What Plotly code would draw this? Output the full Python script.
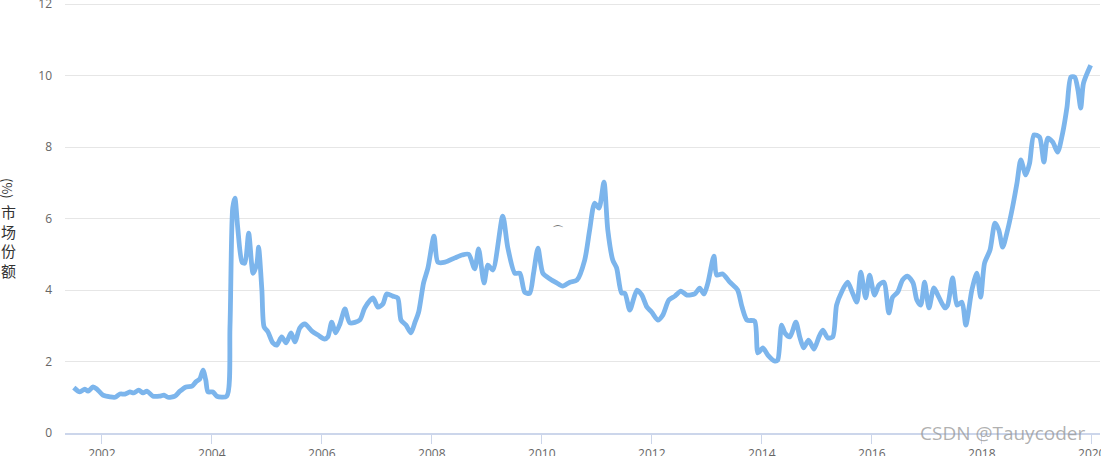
import plotly.graph_objects as go

# decimal years and market share (%)
years = [2001.49, 2001.60, 2001.69, 2001.75, 2001.84, 2001.91, 2002.02, 2002.15, 2002.24, 2002.33,
         2002.42, 2002.51, 2002.58, 2002.67, 2002.75, 2002.82, 2002.93, 2003.05, 2003.13, 2003.20,
         2003.33, 2003.42, 2003.53, 2003.64, 2003.71, 2003.78, 2003.84, 2003.89, 2003.93, 2004.02,
         2004.09, 2004.27, 2004.33, 2004.38, 2004.42, 2004.47, 2004.55, 2004.60, 2004.67, 2004.75,
         2004.82, 2004.85, 2004.91, 2004.95, 2005.02, 2005.11, 2005.18, 2005.27, 2005.35, 2005.44,
         2005.51, 2005.60, 2005.69, 2005.82, 2005.93, 2006.05, 2006.11, 2006.18, 2006.25, 2006.33,
         2006.42, 2006.51, 2006.69, 2006.78, 2006.93, 2007.02, 2007.11, 2007.18, 2007.29, 2007.38,
         2007.44, 2007.53, 2007.62, 2007.69, 2007.76, 2007.85, 2007.93, 2008.04, 2008.11, 2008.24,
         2008.42, 2008.55, 2008.67, 2008.78, 2008.85, 2008.95, 2009.02, 2009.11, 2009.29, 2009.38,
         2009.51, 2009.60, 2009.69, 2009.78, 2009.85, 2009.93, 2010.02, 2010.15, 2010.27, 2010.38,
         2010.51, 2010.64, 2010.78, 2010.87, 2010.96, 2011.04, 2011.13, 2011.20, 2011.29, 2011.36,
         2011.45, 2011.51, 2011.60, 2011.73, 2011.82, 2011.91, 2012.00, 2012.11, 2012.20, 2012.31,
         2012.42, 2012.53, 2012.64, 2012.78, 2012.87, 2012.95, 2013.02, 2013.13, 2013.18, 2013.29,
         2013.42, 2013.56, 2013.64, 2013.73, 2013.87, 2013.93, 2014.02, 2014.11, 2014.24, 2014.29,
         2014.36, 2014.42, 2014.51, 2014.62, 2014.69, 2014.76, 2014.85, 2014.95, 2015.04, 2015.11,
         2015.20, 2015.29, 2015.36, 2015.45, 2015.56, 2015.65, 2015.73, 2015.80, 2015.89, 2015.96,
         2016.05, 2016.13, 2016.22, 2016.31, 2016.38, 2016.47, 2016.56, 2016.65, 2016.75, 2016.82,
         2016.89, 2016.96, 2017.04, 2017.13, 2017.22, 2017.33, 2017.38, 2017.47, 2017.55, 2017.64,
         2017.71, 2017.82, 2017.91, 2017.98, 2018.05, 2018.15, 2018.24, 2018.31, 2018.38, 2018.47,
         2018.56, 2018.64, 2018.71, 2018.80, 2018.87, 2018.95, 2019.05, 2019.13, 2019.20, 2019.29,
         2019.38, 2019.47, 2019.55, 2019.62, 2019.69, 2019.75, 2019.80, 2019.85, 2019.98]

share = [1.27, 1.15, 1.23, 1.17, 1.29, 1.23, 1.06, 1.01, 1.00, 1.09,
         1.09, 1.15, 1.12, 1.20, 1.12, 1.17, 1.03, 1.03, 1.06, 1.00,
         1.03, 1.17, 1.29, 1.31, 1.43, 1.51, 1.76, 1.48, 1.15, 1.15,
         1.03, 1.03, 2.97, 6.30, 6.57, 5.76, 4.78, 4.75, 5.59, 4.47,
         4.75, 5.20, 4.00, 2.97, 2.83, 2.52, 2.46, 2.69, 2.52, 2.80,
         2.55, 2.94, 3.05, 2.85, 2.74, 2.63, 2.69, 3.10, 2.80, 3.05,
         3.47, 3.08, 3.16, 3.50, 3.78, 3.52, 3.61, 3.89, 3.83, 3.78,
         3.16, 3.02, 2.80, 3.08, 3.38, 4.20, 4.62, 5.51, 4.78, 4.78,
         4.90, 4.98, 5.00, 4.59, 5.15, 4.20, 4.70, 4.56, 6.07, 5.20,
         4.47, 4.47, 3.94, 3.91, 4.47, 5.17, 4.47, 4.31, 4.20, 4.11,
         4.22, 4.28, 4.84, 5.68, 6.43, 6.29, 7.02, 5.68, 4.84, 4.62,
         3.92, 3.91, 3.44, 4.00, 3.86, 3.53, 3.38, 3.16, 3.30, 3.72,
         3.83, 3.97, 3.86, 3.89, 4.05, 3.89, 4.20, 4.95, 4.42, 4.45,
         4.22, 4.00, 3.53, 3.16, 3.13, 2.24, 2.38, 2.18, 2.01, 2.04,
         3.02, 2.80, 2.69, 3.10, 2.69, 2.38, 2.60, 2.35, 2.69, 2.88,
         2.66, 2.69, 3.58, 3.94, 4.22, 3.92, 3.66, 4.50, 3.78, 4.42,
         3.86, 4.14, 4.22, 3.36, 3.80, 3.94, 4.28, 4.39, 4.20, 3.72,
         3.58, 4.22, 3.50, 4.06, 3.80, 3.50, 3.58, 4.34, 3.58, 3.66,
         3.02, 4.00, 4.47, 3.80, 4.75, 5.12, 5.87, 5.68, 5.20, 5.68,
         6.32, 6.99, 7.64, 7.22, 7.55, 8.34, 8.28, 7.58, 8.25, 8.14,
         7.86, 8.39, 9.12, 9.96, 9.96, 9.59, 9.09, 9.79, 10.29]

x_ticks = [2002, 2004, 2006, 2008, 2010, 2012, 2014, 2016, 2018, 2020]
y_ticks = [0, 2, 4, 6, 8, 10, 12]
y_title_chars = ["市", "场", "份", "额"]
y_title_unit = "(%)"
watermark = "CSDN @Tauycoder"

fig = go.Figure()
fig.add_trace(go.Scatter(
    x=years, y=share, mode="lines",
    line=dict(color="#7cb5ec", width=4.8, shape="spline", smoothing=0.7),
    hoverinfo="x+y", showlegend=False,
))

tick_font = dict(family="Open Sans, Noto Sans, sans-serif", size=12, color="#666666")

fig.update_layout(
    width=1101, height=456,
    margin=dict(l=65, r=1, t=2, b=23),
    paper_bgcolor="white", plot_bgcolor="white",
    xaxis=dict(
        range=[2001.33, 2020.15], automargin=False,
        tickvals=x_ticks, ticktext=[str(v) for v in x_ticks],
        showgrid=False, zeroline=False,
        showline=True, linecolor="#ccd6eb", linewidth=2,
        ticks="outside", ticklen=9, tickwidth=1, tickcolor="#ccd6eb",
        tickfont=tick_font, ticklabeloverflow="allow",
    ),
    yaxis=dict(
        range=[0, 12.06], tickvals=y_ticks, automargin=False,
        showgrid=True, gridcolor="#e6e6e6", gridwidth=1,
        zeroline=False, showline=False,
        ticks="", ticklabelstandoff=12,
        tickfont=tick_font, ticklabeloverflow="allow",
    ),
)

fig.add_annotation(
    text=y_title_unit, textangle=90, xref="paper", yref="paper",
    x=0, y=(433 - 188) / 431, xanchor="center", yanchor="middle",
    xshift=-57, showarrow=False,
    font=dict(family="Noto Sans CJK SC, sans-serif", size=13, color="#333333"),
)
fig.add_annotation(
    text="<br>".join(y_title_chars), xref="paper", yref="paper",
    x=0, y=(433 - 241) / 431, xanchor="center", yanchor="middle",
    xshift=-57, showarrow=False, align="center",
    font=dict(family="Noto Sans CJK SC, sans-serif", size=15, color="#333333"),
)
fig.add_annotation(
    text="⌒", xref="x", yref="y", x=2010.29, y=5.68,
    showarrow=False, font=dict(size=12, color="#555555"),
)
fig.add_annotation(
    text=watermark, xref="paper", yref="paper", x=1, y=0,
    xanchor="right", yanchor="middle", xshift=-13, showarrow=False,
    font=dict(family="Open Sans, Noto Sans, sans-serif", size=19, color="rgba(150,150,150,0.75)"),
)

fig.write_html("out.html", config={"displayModeBar": False},
               post_script="document.body.style.margin='0';document.body.style.overflow='hidden';")
